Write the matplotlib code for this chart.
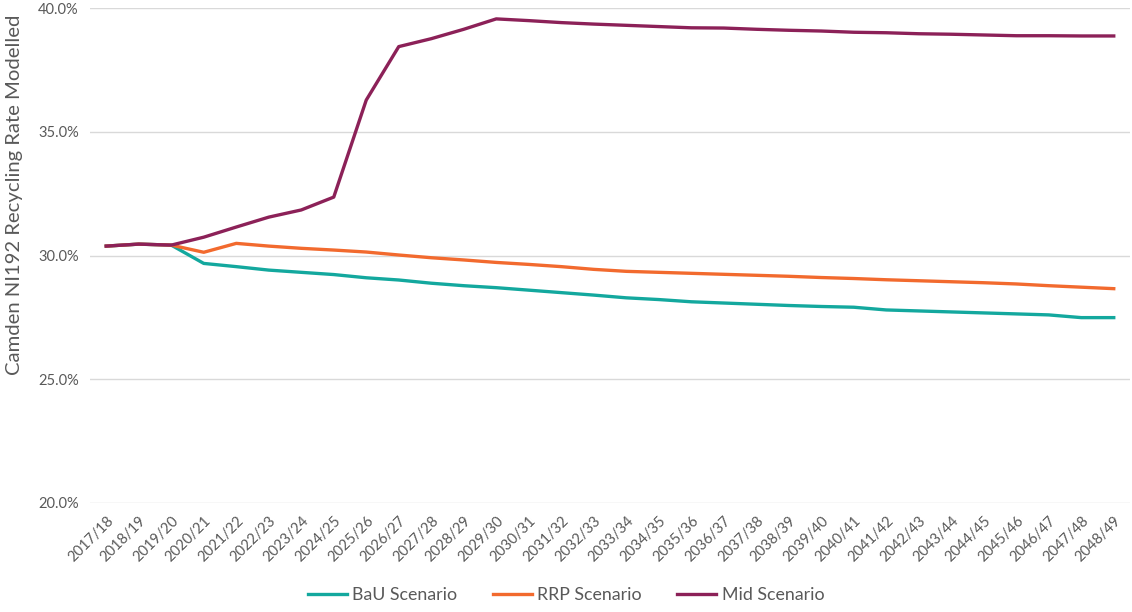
import matplotlib.pyplot as plt
from matplotlib.ticker import PercentFormatter

plt.rcParams['font.family'] = ['Lato', 'DejaVu Sans']

years = [f"{y}/{(y + 1) % 100:02d}" for y in range(2017, 2049)]

bau = [30.38, 30.46, 30.42, 29.68, 29.55, 29.41, 29.32, 29.23, 29.10, 29.01,
       28.88, 28.78, 28.70, 28.60, 28.50, 28.40, 28.29, 28.22, 28.13, 28.08,
       28.03, 27.98, 27.94, 27.91, 27.80, 27.76, 27.72, 27.68, 27.64, 27.60,
       27.49, 27.49]
rrp = [30.38, 30.46, 30.42, 30.13, 30.49, 30.38, 30.29, 30.22, 30.14, 30.02,
       29.91, 29.82, 29.72, 29.64, 29.55, 29.44, 29.36, 29.32, 29.28, 29.24,
       29.20, 29.16, 29.11, 29.07, 29.02, 28.98, 28.94, 28.90, 28.85, 28.78,
       28.72, 28.66]
mid = [30.38, 30.46, 30.42, 30.74, 31.15, 31.55, 31.84, 32.36, 36.28, 38.44,
       38.76, 39.14, 39.56, 39.49, 39.41, 39.35, 39.30, 39.25, 39.20, 39.19,
       39.14, 39.10, 39.07, 39.02, 39.00, 38.96, 38.94, 38.91, 38.88, 38.88,
       38.87, 38.87]

series = [
    ("BaU Scenario", bau, "#13A89E"),
    ("RRP Scenario", rrp, "#F26A2E"),
    ("Mid Scenario", mid, "#8C2158"),
]

fig = plt.figure(figsize=(11.32, 6.12), dpi=100)
ax = fig.add_axes([90 / 1132, 1 - 503 / 612, 1040 / 1132, 495 / 612])

x = list(range(len(years)))
for name, vals, col in series:
    ax.plot(x, vals, color=col, lw=2.4, label=name, solid_joinstyle="round")

ax.set_ylim(20, 40)
ax.set_yticks([20, 25, 30, 35, 40])
ax.yaxis.set_major_formatter(PercentFormatter(decimals=1))
ax.set_xlim(-0.5, len(years) - 0.5)
ax.set_xticks(x)
ax.set_xticklabels(years, rotation=45, ha="right", rotation_mode="anchor")

ax.grid(axis="y", color="#d9d9d9", lw=1)
ax.set_axisbelow(True)
for s in ax.spines.values():
    s.set_visible(False)
ax.tick_params(axis="both", length=0, colors="#595959", labelsize=10.5)
ax.tick_params(axis="x", pad=8)
ax.tick_params(axis="y", pad=8)

# axis title sits high, centred over the plot plus the tick label band
ax.set_ylabel("Camden NI192 Recycling Rate Modelled", fontsize=14.6, color="#595959",
              va="center")
ax.yaxis.set_label_coords(-75 / 1040, (503 - 195) / 495)

fig.legend(loc="lower center", bbox_to_anchor=(0.5, -0.012), ncol=3, frameon=False,
           fontsize=12.8, labelcolor="#595959", handlelength=2.2, columnspacing=2.0,
           handletextpad=0.3)

fig.savefig("out.png", dpi=100)
